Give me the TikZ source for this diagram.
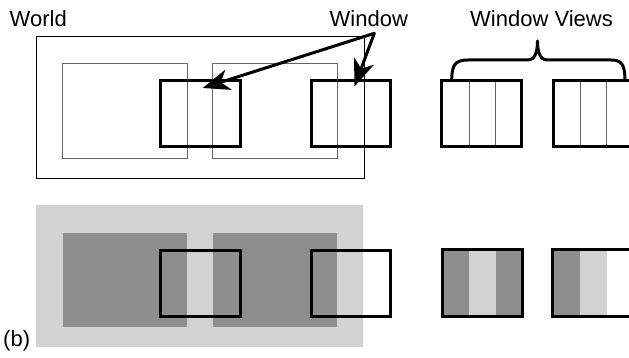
\documentclass[tikz,border=0pt]{standalone}
\usepackage{fontspec}
\setmainfont{Liberation Sans}
\usetikzlibrary{arrows.meta}
\definecolor{lightfill}{RGB}{210,210,210}
\definecolor{darkfill}{RGB}{142,142,142}
\definecolor{thinline}{RGB}{100,100,100}
\begin{document}
\begin{tikzpicture}[x=1pt,y=-1pt,
  lbl/.style={font=\fontsize{22}{26}\selectfont, inner sep=0pt, anchor=base west},
  frame/.style={draw=black, line width=1pt},
  area/.style={draw=thinline, line width=1pt},
  winbox/.style={draw=black, line width=3pt},
  pointer/.style={line width=3pt, line cap=round,
    -{Stealth[length=27pt,width=21pt,inset=8pt]}},
  divider/.style={draw=thinline, line width=1pt},
  bracket/.style={draw=black, line width=3pt, line join=round}]
\clip (0,0) rectangle (629,358);
\fill[white] (0,0) rectangle (629,358);

% labels
\node[lbl] (world)  at (9.5,26.7)  {World};
\node[lbl] (window) at (329.5,26.7) {Window};
\node[lbl] (views)  at (470,26.7)  {Window Views};
\node[lbl] (b)      at (3,346.5)   {(b)};

% top row: the world, its two areas and the two windows
\draw[frame] (36.7,36.7) rectangle (364,179);
\draw[area] (62.7,63.3) rectangle (187.3,159);
\draw[area] (212.7,63.3) rectangle (337.3,159);
\draw[winbox] (160.7,81) rectangle (240,146.7);
\draw[winbox] (311.7,81) rectangle (390.7,146.7);

% pointers from the "Window" label
\coordinate (src)  at (374.3,33.3);
\coordinate (tipA) at (202.7,88);
\coordinate (tipB) at (354.5,86.5);
\draw[pointer] (src) -- (tipA);
\draw[pointer] (src) -- (tipB);

% top row: window views with their column dividers
\foreach \xx in {469,495,580.3,606.7}
  \draw[divider] (\xx,81) -- (\xx,146.7);
\draw[winbox] (441.7,81) rectangle (521,146.7);
\draw[winbox] (553.3,81) rectangle (632.6,146.7);

% brace over the window views
\draw[bracket] (451.7,81) .. controls (451.7,65) and (455,60) .. (468,60)
  -- (528,60) .. controls (534,60) and (537.5,54) .. (537.5,41)
  .. controls (537.5,54) and (541,60) .. (547,60)
  -- (611,60) .. controls (622,60) and (625,65) .. (625,81);

% bottom row: shaded world and areas
\fill[lightfill] (36,205) rectangle (363.3,347.3);
\fill[darkfill] (62.7,232.7) rectangle (186.7,327.3);
\fill[darkfill] (212.7,232.7) rectangle (336.7,327.3);
\draw[winbox] (160.7,250.7) rectangle (240,316);
\draw[winbox] (311.7,250.7) rectangle (390.7,316);

% bottom row: shaded window views
\fill[darkfill]  (442.7,249.3) rectangle (469,316);
\fill[lightfill] (469,249.3) rectangle (495.7,316);
\fill[darkfill]  (495.7,249.3) rectangle (522.7,316);
\draw[winbox] (442.7,249.3) rectangle (522.7,316);
\fill[darkfill]  (552.7,249.3) rectangle (580,316);
\fill[lightfill] (580,249.3) rectangle (606.7,316);
\draw[winbox] (552.7,249.3) rectangle (632.7,316);
\end{tikzpicture}
\end{document}
